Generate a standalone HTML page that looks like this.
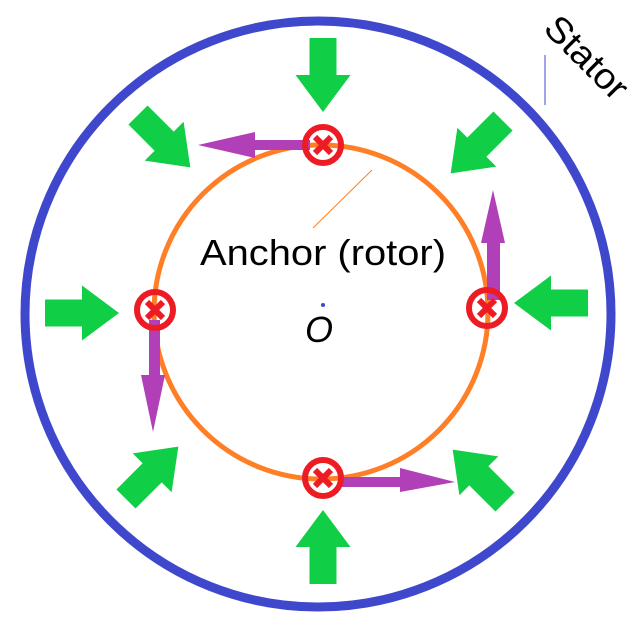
<!DOCTYPE html>
<html><head><meta charset="utf-8"><style>
html,body{margin:0;padding:0;background:#fff;}
svg{display:block;}
</style></head><body>
<svg width="637" height="631" viewBox="0 0 637 631" xmlns="http://www.w3.org/2000/svg">
<defs>
<polygon id="ga" points="0,-13.5 37,-13.5 37,-27.5 74,0 37,27.5 37,13.5 0,13.5" fill="#10cf46"/>
</defs>
<circle cx="318" cy="314" r="293" fill="none" stroke="#3f48cc" stroke-width="9"/>
<circle cx="321" cy="312" r="167" fill="none" stroke="#ff7f27" stroke-width="5"/>
<line x1="545" y1="55" x2="545" y2="105" stroke="#3f48cc" stroke-width="1"/>
<line x1="313" y1="228" x2="372" y2="170" stroke="#ff7f27" stroke-width="1"/>
<use href="#ga" transform="translate(323,38) rotate(90)"/>
<use href="#ga" transform="translate(323,584) rotate(-90)"/>
<use href="#ga" transform="translate(45,313)"/>
<use href="#ga" transform="translate(588,303) rotate(180)"/>
<use href="#ga" transform="translate(138,115) rotate(45)"/>
<use href="#ga" transform="translate(503,121) rotate(135)"/>
<use href="#ga" transform="translate(126,499) rotate(-45)"/>
<use href="#ga" transform="translate(505,502) rotate(-135)"/>
<g fill="#b13fb8">
<polygon points="310,140 255,140 255,132 198,145 255,158 255,150 310,150"/>
<polygon points="487,300 487,243 481,243 493,190 505,243 500,243 500,300"/>
<polygon points="149,320 149,375 141,375 153,432 165,375 160,375 160,320"/>
<polygon points="340,477 400,477 400,468 455,482 400,492 400,487 340,487"/>
</g>
<g fill="none" stroke="#ed1c24" stroke-width="6">
<circle cx="323" cy="145" r="18"/>
<circle cx="155" cy="310" r="18"/>
<circle cx="487" cy="308" r="18"/>
<circle cx="323" cy="478" r="18"/>
</g>
<g stroke="#ed1c24" stroke-width="6" stroke-linecap="butt">
<path d="M315,137 L331,153 M331,137 L315,153"/>
<path d="M147,302 L163,318 M163,302 L147,318"/>
<path d="M479,300 L495,316 M495,300 L479,316"/>
<path d="M315,470 L331,486 M331,470 L315,486"/>
</g>
<circle cx="323" cy="305" r="2" fill="#3f48cc"/>
<text x="200" y="265" font-family="Liberation Sans, sans-serif" font-size="36" textLength="246" lengthAdjust="spacingAndGlyphs" fill="#000">Anchor (rotor)</text>
<text x="305" y="342" font-family="Liberation Sans, sans-serif" font-size="36" font-style="italic" fill="#000">O</text>
<text x="0" y="0" transform="translate(542,30) rotate(45)" font-family="Liberation Sans, sans-serif" font-size="36" textLength="102" lengthAdjust="spacingAndGlyphs" fill="#000">Stator</text>
</svg>
</body></html>
